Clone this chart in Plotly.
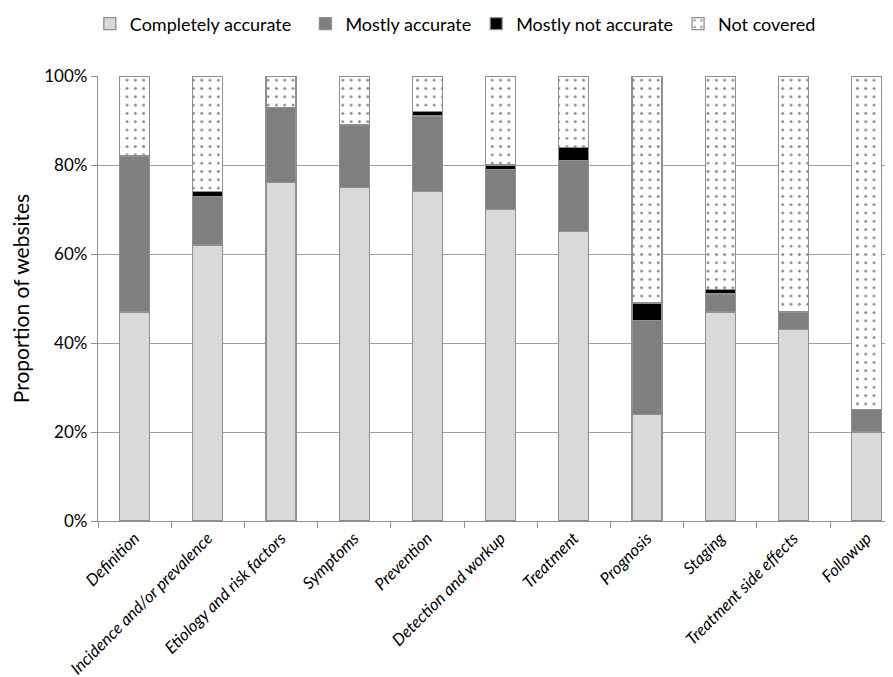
import plotly.graph_objects as go

categories = ["Definition", "Incidence and/or prevalence", "Etiology and risk factors",
              "Symptoms", "Prevention", "Detection and workup", "Treatment",
              "Prognosis", "Staging", "Treatment side effects", "Followup"]
completely_accurate = [47, 62, 76, 75, 74, 70, 65, 24, 47, 43, 20]
mostly_accurate = [35, 11, 17, 14, 17, 9, 16, 21, 4, 4, 5]
mostly_not_accurate = [0, 1, 0, 0, 1, 1, 3, 4, 1, 0, 0]
not_covered = [18, 26, 7, 11, 8, 20, 16, 51, 48, 53, 75]
series_names = ["Completely accurate", "Mostly accurate", "Mostly not accurate", "Not covered"]

FONT = "Lato"
outline = dict(color="#8f8f8f", width=1.3)
nb = "\u00a0"

fig = go.Figure()
fig.add_trace(go.Bar(name=series_names[0] + nb * 2, x=categories, y=completely_accurate,
                     marker=dict(color="#d9d9d9", line=outline)))
fig.add_trace(go.Bar(name=series_names[1], x=categories, y=mostly_accurate,
                     marker=dict(color="#7f7f7f", line=outline)))
fig.add_trace(go.Bar(name=series_names[2], x=categories, y=mostly_not_accurate,
                     marker=dict(color="#000000", line=outline)))
fig.add_trace(go.Bar(name=series_names[3], x=categories, y=not_covered,
                     marker=dict(color="#ffffff", line=outline,
                                 pattern=dict(shape=".", fgcolor="#111111", bgcolor="#ffffff",
                                              size=8.3, solidity=0.1))))

fig.update_layout(
    barmode="stack",
    bargap=0.59,
    width=885, height=669,
    margin=dict(l=90, r=0, t=68, b=156, autoexpand=False),
    plot_bgcolor="white", paper_bgcolor="white",
    font=dict(family=FONT, color="#000000", size=16),
    legend=dict(orientation="h", x=-0.0103, xanchor="left", y=1.117, yref="paper",
                yanchor="middle", font=dict(size=18), traceorder="normal",
                itemwidth=30),
    showlegend=True,
)
fig.update_xaxes(
    range=[-0.5, 10.36],
    tickangle=-45,
    tickfont=dict(size=16.5, family=FONT, style="italic"),
    ticks="outside", tickson="boundaries", ticklen=6, tickcolor="#8f8f8f",
    showline=True, linecolor="#8f8f8f", linewidth=1.3,
    showgrid=False, automargin=False,
)
fig.update_yaxes(
    range=[0, 100],
    tickvals=[0, 20, 40, 60, 80, 100],
    ticktext=["0%", "20%", "40%", "60%", "80%", "100%"],
    tickfont=dict(size=17),
    ticks="outside", ticklen=6, tickcolor="#8f8f8f",
    showline=True, linecolor="#8f8f8f", linewidth=1.3,
    showgrid=True, gridcolor="#a0a0a0", gridwidth=1.3,
    title=dict(text="Proportion of websites", font=dict(size=21), standoff=16),
    zeroline=False, automargin=False,
)

fig.write_html("out.html")
